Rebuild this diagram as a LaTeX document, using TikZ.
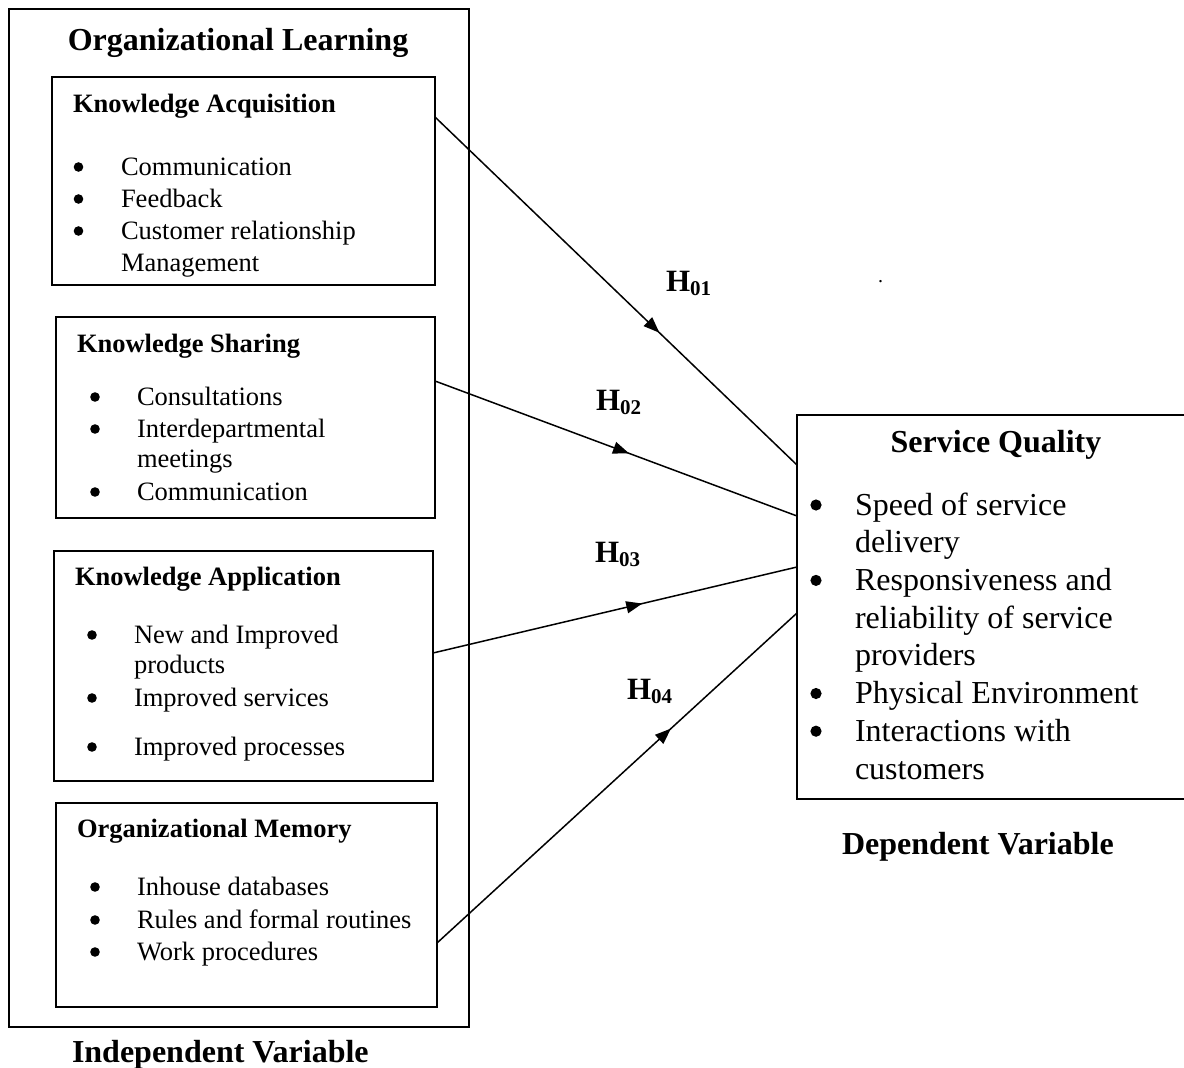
\documentclass[tikz,border=0pt]{standalone}
\usepackage{fontspec}
\setmainfont{Liberation Serif}
\usetikzlibrary{arrows.meta,decorations.markings}

% bullet line in the left-hand boxes: name, bullet x, text x, baseline y, text
\newcommand{\leftitem}[5]{%
  \fill (#2,#4-8) circle (4.8pt);
  \node[body] (#1) at (#3,#4) {#5};}
% bullet line in the dependent-variable box
\newcommand{\rightitem}[5]{%
  \fill (#2,#4-10) circle (5.6pt);
  \node[bodylg] (#1) at (#3,#4) {#5};}

\tikzset{
  frame/.style={draw, rectangle, line width=1.8pt, outer sep=0pt, inner sep=0pt},
  box/.style={draw, rectangle, line width=1.6pt, outer sep=0pt, inner sep=0pt},
  body/.style={anchor=base west, inner sep=0pt, outer sep=0pt,
    font=\fontsize{26.5}{32}\selectfont},
  boxhead/.style={body, font=\fontsize{26.5}{32}\selectfont\bfseries},
  bodylg/.style={anchor=base west, inner sep=0pt, outer sep=0pt,
    font=\fontsize{32}{38}\selectfont},
  bighead/.style={inner sep=0pt, outer sep=0pt,
    font=\fontsize{32}{38}\selectfont\bfseries},
  hyp/.style={line width=1.5pt, postaction={decorate},
    decoration={markings, mark=at position #1 with
      {\arrow{Triangle[length=16pt,width=12pt]}}}},
  hlabel/.style={anchor=base west, inner sep=0pt, outer sep=0pt,
    font=\fontsize{31}{31}\selectfont\bfseries},
}
\newcommand{\hyplabel}[1]{H\raisebox{-4pt}{\fontsize{21}{21}\selectfont #1}}

\begin{document}
\begin{tikzpicture}[x=1pt,y=-1pt]
\useasboundingbox (0,0) rectangle (1184,1068);

% ---------- independent variable ----------
\node[frame, minimum width=460pt, minimum height=1018pt] (outer) at (239,518) {};
\node[bighead, anchor=base] (olt) at (238,50) {Organizational Learning};

\node[box, minimum width=383pt, minimum height=208pt] (ka) at (243.5,181) {};
\node[boxhead] (kat) at (73,112) {Knowledge Acquisition};
\leftitem{ka1}{78.5}{121}{175}{Communication}
\leftitem{ka2}{78.5}{121}{207}{Feedback}
\leftitem{ka3}{78.5}{121}{239}{Customer relationship}
\node[body] (ka4) at (121,271) {Management};

\node[box, minimum width=379pt, minimum height=201pt] (ks) at (245.5,417.5) {};
\node[boxhead] (kst) at (77,352) {Knowledge Sharing};
\leftitem{ks1}{95}{137}{405}{Consultations}
\leftitem{ks2}{95}{137}{437}{Interdepartmental}
\node[body] (ks3) at (137,467) {meetings};
\leftitem{ks4}{95}{137}{500}{Communication}

\node[box, minimum width=379pt, minimum height=230pt] (kap) at (243.5,666) {};
\node[boxhead] (kapt) at (75,585) {Knowledge Application};
\leftitem{kap1}{92}{134}{643}{New and Improved}
\node[body] (kap2) at (134,673) {products};
\leftitem{kap3}{92}{134}{706}{Improved services}
\leftitem{kap4}{92}{134}{755}{Improved processes}

\node[box, minimum width=381pt, minimum height=204pt] (om) at (246.5,905) {};
\node[boxhead] (omt) at (77,837) {Organizational Memory};
\leftitem{om1}{95}{137}{895}{Inhouse databases}
\leftitem{om2}{95}{137}{928}{Rules and formal routines}
\leftitem{om3}{95}{137}{960}{Work procedures}

\node[bighead, anchor=base west] (ivar) at (72,1062) {Independent Variable};

% ---------- dependent variable ----------
\node[box, minimum width=390pt, minimum height=384pt] (sq) at (992,607) {};
\node[bighead, anchor=base] (sqt) at (996,452) {Service Quality};
\rightitem{sq1}{816}{855}{515}{Speed of service}
\node[bodylg] (sq2) at (855,552.7) {delivery};
\rightitem{sq3}{816}{855}{590.4}{Responsiveness and}
\node[bodylg] (sq4) at (855,628.1) {reliability of service};
\node[bodylg] (sq5) at (855,665.8) {providers};
\rightitem{sq6}{816}{855}{703.5}{Physical Environment}
\rightitem{sq7}{816}{855}{741.2}{Interactions with}
\node[bodylg] (sq8) at (855,779) {customers};

\node[bighead, anchor=base west] (dvar) at (842,854) {Dependent Variable};

\node[inner sep=0pt, font=\fontsize{20}{20}\selectfont] (dot) at (880.5,282) {.};

% ---------- hypotheses ----------
\draw[hyp=0.62]  ([yshift=64pt]ka.east)  -- ([yshift=142pt]sq.west);
\draw[hyp=0.536] ([yshift=36.5pt]ks.east) -- ([yshift=91pt]sq.west);
\draw[hyp=0.575] ([yshift=13pt]kap.east) -- ([yshift=40pt]sq.west);
\draw[hyp=0.65]  ([yshift=-38pt]om.east) -- ([yshift=-6pt]sq.west);

\node[hlabel] (h1) at (666,291) {\hyplabel{01}};
\node[hlabel] (h2) at (596,410) {\hyplabel{02}};
\node[hlabel] (h3) at (595,562) {\hyplabel{03}};
\node[hlabel] (h4) at (627,699) {\hyplabel{04}};
\end{tikzpicture}
\end{document}
